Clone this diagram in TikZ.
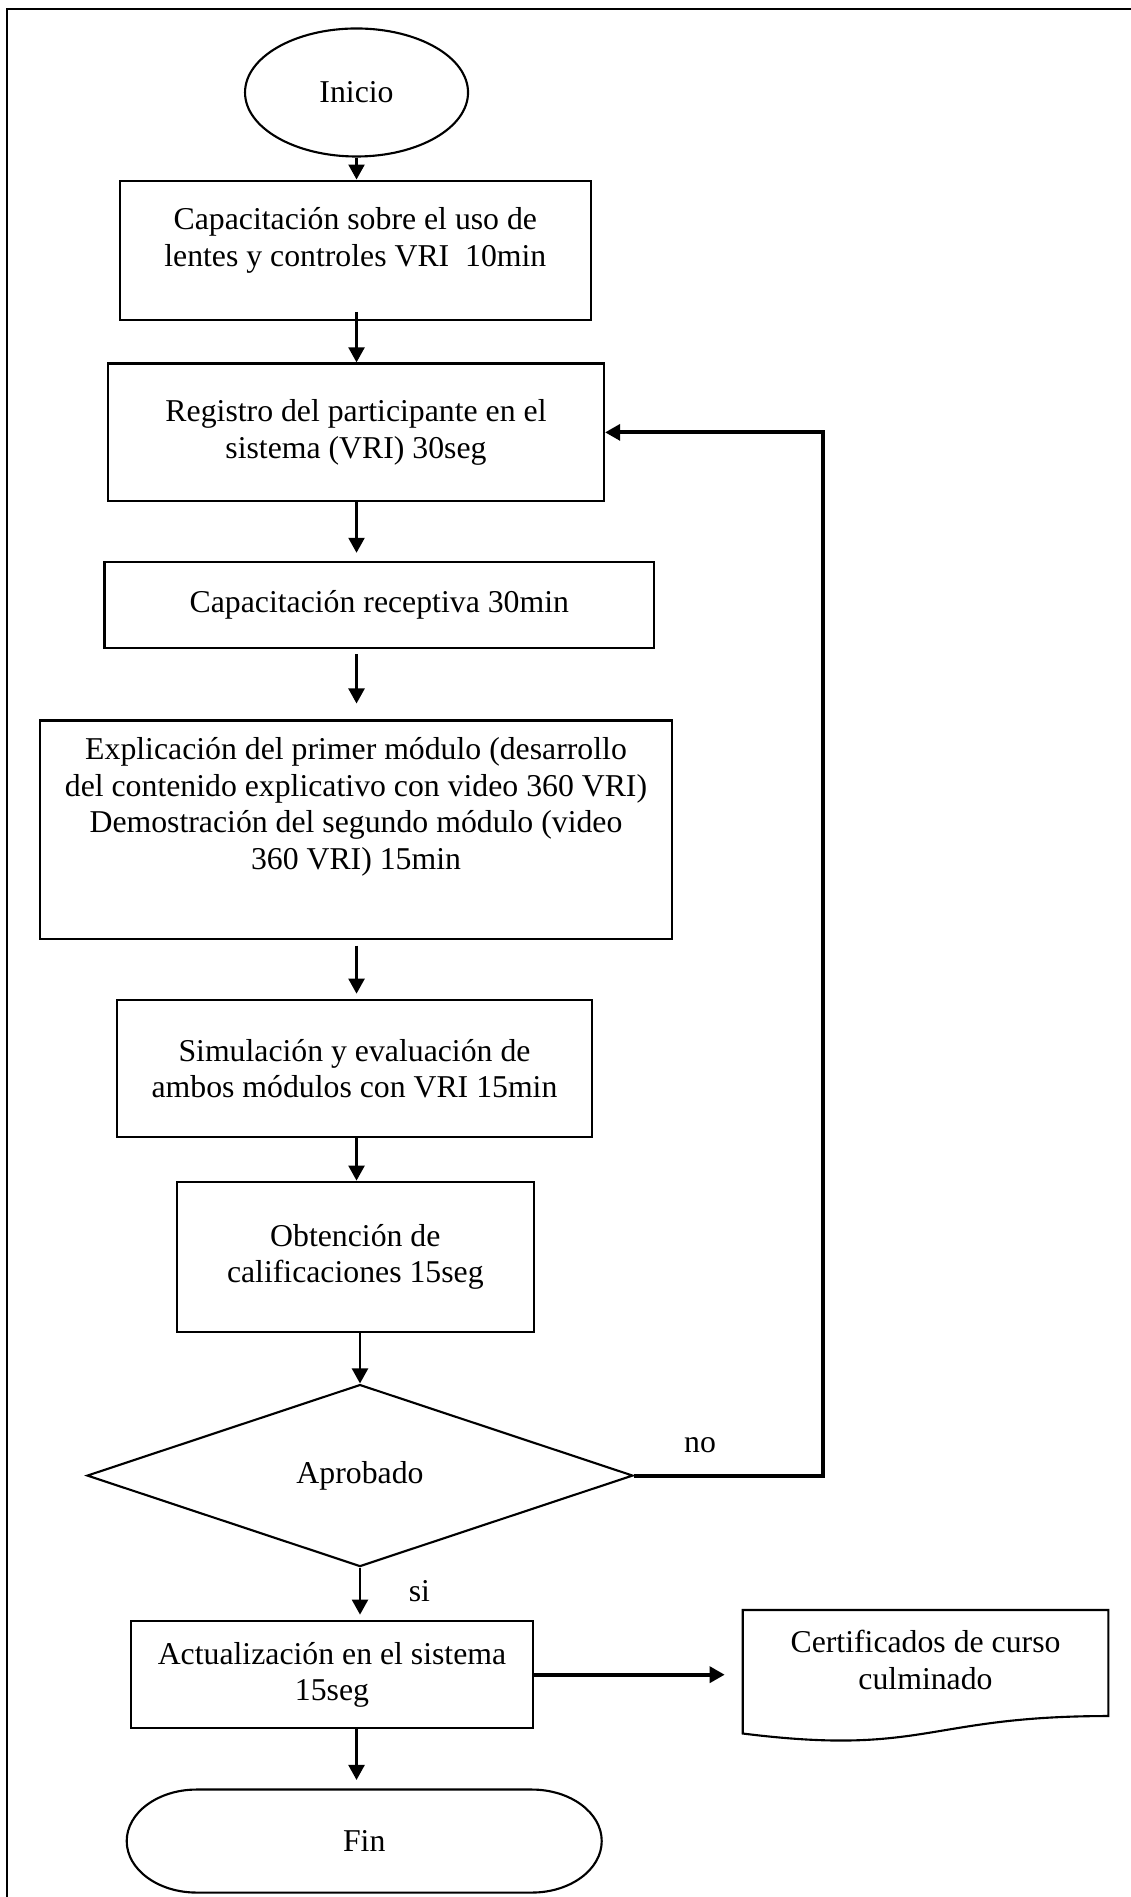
\documentclass[tikz,border=0pt]{standalone}
\usepackage{fontspec}
\setmainfont{Liberation Serif}
\usetikzlibrary{arrows.meta,shapes.geometric}

\begin{document}
\begin{tikzpicture}[line width=0.8pt,>={Triangle[length=2mm,width=2.1mm]},
  every node/.style={font=\fontsize{12}{13.8}\selectfont,align=center,inner sep=0pt},
  caja/.style={draw,rectangle},
  flecha/.style={->,line width=1.1pt},
  gruesa/.style={->,line width=1.5pt,line join=miter}]
  \useasboundingbox (0,0) rectangle (15.004,-25.188);
  % marco
  \draw (15.3,-0.12) -- (0.097,-0.12) -- (0.097,-25.4);
  % inicio
  \node[draw,ellipse,minimum width=2.961cm,minimum height=1.7cm] (inicio) at (4.734,-1.228) {Inicio};
  % procesos
  \node[caja,minimum width=6.259cm,minimum height=1.851cm,text depth=10.2pt] (cap) at (4.718,-3.324)
    {Capacitación sobre el uso de\\lentes y controles VRI\ \ 10min};
  \node[caja,minimum width=6.586cm,minimum height=1.83cm] (reg) at (4.727,-5.741)
    {Registro del participante en el\\sistema (VRI) 30seg};
  \node[caja,minimum width=7.296cm,minimum height=1.142cm] (recep) at (5.036,-8.031)
    {Capacitación receptiva 30min};
  \node[caja,minimum width=8.402cm,minimum height=2.905cm,text depth=19.9pt] (expl) at (4.727,-11.019)
    {Explicación del primer módulo (desarrollo\\del contenido explicativo con video 360 VRI)\\Demostración del segundo módulo (video\\360 VRI) 15min};
  \node[caja,minimum width=6.316cm,minimum height=1.819cm] (sim) at (4.707,-14.188)
    {Simulación y evaluación de\\ambos módulos con VRI 15min};
  \node[caja,minimum width=4.746cm,minimum height=2.001cm] (obt) at (4.718,-16.691)
    {Obtención de\\calificaciones 15seg};
  % decision
  \node[draw,diamond,aspect=3,minimum width=7.25cm,minimum height=2.417cm] (dec) at (4.78,-19.592) {Aprobado};
  \node (no) at (9.295,-19.193) {no};
  \node (si) at (5.569,-21.129) {si};
  \node[caja,minimum width=5.338cm,minimum height=1.425cm] (act) at (4.408,-22.236)
    {Actualización en el sistema\\15seg};
  % documento
  \node[outer sep=0pt,minimum width=4.854cm,minimum height=1.328cm] (cert) at (12.289,-22.041)
    {Certificados de curso\\culminado};
  \draw (cert.north west) -- (cert.north east) -- ([yshift=-0.08cm]cert.south east)
    .. controls ([yshift=-0.08cm]cert.south) and ([yshift=-0.616cm]cert.south) .. ([yshift=-0.312cm]cert.south west) -- cycle;
  % fin
  \node[outer sep=0pt,minimum width=6.307cm,minimum height=1.368cm] (fin) at (4.836,-24.445) {Fin};
  \draw ([xshift=0.929cm]fin.north west) -- ([xshift=-0.929cm]fin.north east)
    arc[start angle=90,end angle=-90,x radius=0.929cm,y radius=0.684cm]
    -- ([xshift=0.929cm]fin.south west)
    arc[start angle=270,end angle=90,x radius=0.929cm,y radius=0.684cm] -- cycle;
  % flechas
  \draw[flecha] (inicio.south) -- (inicio.south |- cap.north);
  \draw[flecha] ([yshift=3.5pt]cap.south -| inicio) -- (reg.north -| inicio);
  \draw[flecha,shorten >=3pt] (reg.south -| inicio) -- (recep.north -| inicio);
  \draw[flecha,shorten <=2pt,shorten >=6pt] (recep.south -| inicio) -- (expl.north -| inicio);
  \draw[flecha,shorten <=2pt,shorten >=2pt] (expl.south -| inicio) -- (sim.north -| inicio);
  \draw[flecha] (sim.south -| inicio) -- (obt.north -| inicio);
  \draw[flecha] (obt.south -| dec) -- (dec.north);
  \draw[flecha,shorten >=2pt] (dec.south) -- (dec.south |- act.north);
  \draw[flecha,shorten >=3.6pt] (act.south -| inicio) -- (fin.north -| inicio);
  \draw[gruesa,shorten >=6.8pt] (act.east) -- (act.east -| cert.west);
  % regreso
  \draw[gruesa] (dec.east) -| ([xshift=2.899cm]reg.east) -- (reg.east);
\end{tikzpicture}
\end{document}
